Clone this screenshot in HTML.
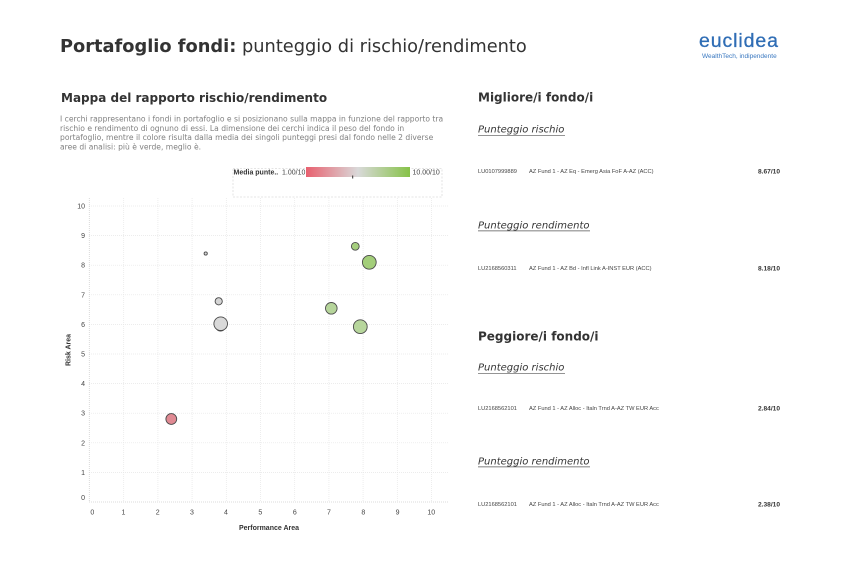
<!DOCTYPE html>
<html>
<head>
<meta charset="utf-8">
<style>
html,body{margin:0;padding:0;background:#fff;}
svg{display:block;}
.dj{font-family:"DejaVu Sans","Liberation Sans",sans-serif;}
.lb{font-family:"Liberation Sans",Arial,sans-serif;}
</style>
</head>
<body>
<svg width="842" height="566" viewBox="0 0 842 566" xmlns="http://www.w3.org/2000/svg">
<rect width="842" height="566" fill="#fff"/>
<defs>
<linearGradient id="lg" x1="0" x2="1" y1="0" y2="0">
<stop offset="0" stop-color="#e8606f"/>
<stop offset="0.5" stop-color="#d9d9d9"/>
<stop offset="1" stop-color="#86c248"/>
</linearGradient>
</defs>

<!-- Header -->
<text class="dj" x="60" y="52" font-size="17.8" fill="#333"><tspan font-weight="bold">Portafoglio fondi:</tspan> punteggio di rischio/rendimento</text>

<!-- Logo -->
<text class="lb" x="699" y="47" font-size="19.5" fill="#2f6db5" letter-spacing="0.9" stroke="#2f6db5" stroke-width="0.3">euclidea</text>
<text class="lb" x="702" y="58" font-size="6.5" fill="#3a78c0">WealthTech, indipendente</text>

<!-- Left section -->
<text class="dj" x="61" y="102" font-size="12" font-weight="bold" fill="#333">Mappa del rapporto rischio/rendimento</text>
<g class="dj" font-size="7.6" fill="#808080">
<text x="60" y="121.5">I cerchi rappresentano i fondi in portafoglio e si posizionano sulla mappa in funzione del rapporto tra</text>
<text x="60" y="130.8">rischio e rendimento di ognuno di essi. La dimensione dei cerchi indica il peso del fondo in</text>
<text x="60" y="140.2">portafoglio, mentre il colore risulta dalla media dei singoli punteggi presi dal fondo nelle 2 diverse</text>
<text x="60" y="149.5">aree di analisi: più è verde, meglio è.</text>
</g>

<!-- Legend -->
<rect x="233" y="168.5" width="209" height="28.5" fill="none" stroke="#dcdcdc" stroke-width="0.8" stroke-dasharray="2,1.5"/>
<text class="lb" x="233.5" y="174.5" font-size="7" font-weight="bold" fill="#333">Media punte..</text>
<text class="lb" x="282" y="174.5" font-size="7" fill="#444">1.00/10</text>
<rect x="306" y="167" width="104" height="10" fill="url(#lg)"/>
<line x1="352.7" y1="175.5" x2="352.7" y2="178.5" stroke="#333" stroke-width="1"/>
<text class="lb" x="412.5" y="174.5" font-size="7" fill="#444">10.00/10</text>

<!-- Grid -->
<g stroke="#e6e6e6" stroke-width="0.7" stroke-dasharray="1,1" fill="none">
<line x1="89" y1="206" x2="448" y2="206"/>
<line x1="89" y1="235.6" x2="448" y2="235.6"/>
<line x1="89" y1="265.2" x2="448" y2="265.2"/>
<line x1="89" y1="294.8" x2="448" y2="294.8"/>
<line x1="89" y1="324.4" x2="448" y2="324.4"/>
<line x1="89" y1="354" x2="448" y2="354"/>
<line x1="89" y1="383.6" x2="448" y2="383.6"/>
<line x1="89" y1="413.2" x2="448" y2="413.2"/>
<line x1="89" y1="442.8" x2="448" y2="442.8"/>
<line x1="89" y1="472.4" x2="448" y2="472.4"/>
<line x1="123.7" y1="198" x2="123.7" y2="502"/>
<line x1="157.9" y1="198" x2="157.9" y2="502"/>
<line x1="192.1" y1="198" x2="192.1" y2="502"/>
<line x1="226.3" y1="198" x2="226.3" y2="502"/>
<line x1="260.5" y1="198" x2="260.5" y2="502"/>
<line x1="294.7" y1="198" x2="294.7" y2="502"/>
<line x1="328.9" y1="198" x2="328.9" y2="502"/>
<line x1="363.1" y1="198" x2="363.1" y2="502"/>
<line x1="397.3" y1="198" x2="397.3" y2="502"/>
<line x1="431.5" y1="198" x2="431.5" y2="502"/>
</g>
<g stroke="#cfcfcf" stroke-width="0.8" stroke-dasharray="1,1" fill="none">
<line x1="89" y1="502" x2="448" y2="502"/>
<line x1="89.3" y1="198" x2="89.3" y2="502"/>
</g>

<!-- Y labels -->
<g class="lb" font-size="7" fill="#444" text-anchor="end">
<text x="85" y="208.5">10</text>
<text x="85" y="238.1">9</text>
<text x="85" y="267.7">8</text>
<text x="85" y="297.3">7</text>
<text x="85" y="326.9">6</text>
<text x="85" y="356.5">5</text>
<text x="85" y="386.1">4</text>
<text x="85" y="415.7">3</text>
<text x="85" y="445.3">2</text>
<text x="85" y="474.9">1</text>
<text x="85" y="500">0</text>
</g>
<!-- X labels -->
<g class="lb" font-size="7" fill="#444" text-anchor="middle">
<text x="92.3" y="514.5">0</text>
<text x="123.5" y="514.5">1</text>
<text x="157.7" y="514.5">2</text>
<text x="191.9" y="514.5">3</text>
<text x="226" y="514.5">4</text>
<text x="260.3" y="514.5">5</text>
<text x="294.8" y="514.5">6</text>
<text x="329" y="514.5">7</text>
<text x="363.3" y="514.5">8</text>
<text x="397.6" y="514.5">9</text>
<text x="431.3" y="514.5">10</text>
</g>
<text class="lb" x="269" y="530" font-size="7" font-weight="bold" fill="#333" text-anchor="middle">Performance Area</text>
<text class="lb" x="0" y="0" font-size="7" font-weight="bold" fill="#333" text-anchor="middle" transform="translate(70.5,350) rotate(-90)">Risk Area</text>

<!-- Bubbles -->
<g stroke="#4a4a4a" stroke-width="0.9">
<circle cx="220.5" cy="326" r="5" fill="#bdbdbd"/>
<circle cx="220.7" cy="323.7" r="6.8" fill="#d9d9d9"/>
<circle cx="218.7" cy="301.3" r="3.6" fill="#d5d5d5"/>
<circle cx="205.7" cy="253.5" r="1.6" fill="#d8d8d8"/>
<circle cx="171.3" cy="419" r="5.4" fill="#e08a93"/>
<circle cx="355.3" cy="246.3" r="3.9" fill="#a6cf7e"/>
<circle cx="369.3" cy="262.3" r="6.9" fill="#a3ce7a"/>
<circle cx="331.3" cy="308.3" r="5.8" fill="#b6d59b"/>
<circle cx="360.3" cy="326.7" r="6.9" fill="#b7d69c"/>
</g>

<!-- Right panel -->
<text class="dj" x="478" y="101.7" font-size="12" font-weight="bold" fill="#333">Migliore/i fondo/i</text>
<text class="dj" x="478" y="132.7" font-size="10" font-style="italic" fill="#333">Punteggio rischio</text>
<line x1="478" y1="135.3" x2="565" y2="135.3" stroke="#555" stroke-width="0.7"/>
<g class="lb" font-size="5.7" fill="#444">
<text x="478" y="173">LU0107999889</text>
<text x="529" y="173">AZ Fund 1 - AZ Eq - Emerg Asia FoF A-AZ (ACC)</text>
</g>
<text class="lb" x="780" y="173.3" font-size="6.6" font-weight="bold" fill="#333" text-anchor="end">8.67/10</text>

<text class="dj" x="478" y="228.3" font-size="10" font-style="italic" fill="#333">Punteggio rendimento</text>
<line x1="478" y1="230.9" x2="590" y2="230.9" stroke="#555" stroke-width="0.7"/>
<g class="lb" font-size="5.7" fill="#444">
<text x="478" y="270">LU2168560311</text>
<text x="529" y="270">AZ Fund 1 - AZ Bd - Infl Link A-INST EUR (ACC)</text>
</g>
<text class="lb" x="780" y="270.3" font-size="6.6" font-weight="bold" fill="#333" text-anchor="end">8.18/10</text>

<text class="dj" x="478" y="340.7" font-size="12" font-weight="bold" fill="#333">Peggiore/i fondo/i</text>
<text class="dj" x="478" y="370.7" font-size="10" font-style="italic" fill="#333">Punteggio rischio</text>
<line x1="478" y1="373.3" x2="565" y2="373.3" stroke="#555" stroke-width="0.7"/>
<g class="lb" font-size="5.7" fill="#444">
<text x="478" y="410">LU2168562101</text>
<text x="529" y="410">AZ Fund 1 - AZ Alloc - Italn Trnd A-AZ TW EUR Acc</text>
</g>
<text class="lb" x="780" y="410.3" font-size="6.6" font-weight="bold" fill="#333" text-anchor="end">2.84/10</text>

<text class="dj" x="478" y="464.3" font-size="10" font-style="italic" fill="#333">Punteggio rendimento</text>
<line x1="478" y1="466.9" x2="590" y2="466.9" stroke="#555" stroke-width="0.7"/>
<g class="lb" font-size="5.7" fill="#444">
<text x="478" y="506">LU2168562101</text>
<text x="529" y="506">AZ Fund 1 - AZ Alloc - Italn Trnd A-AZ TW EUR Acc</text>
</g>
<text class="lb" x="780" y="506.3" font-size="6.6" font-weight="bold" fill="#333" text-anchor="end">2.38/10</text>
</svg>
</body>
</html>
